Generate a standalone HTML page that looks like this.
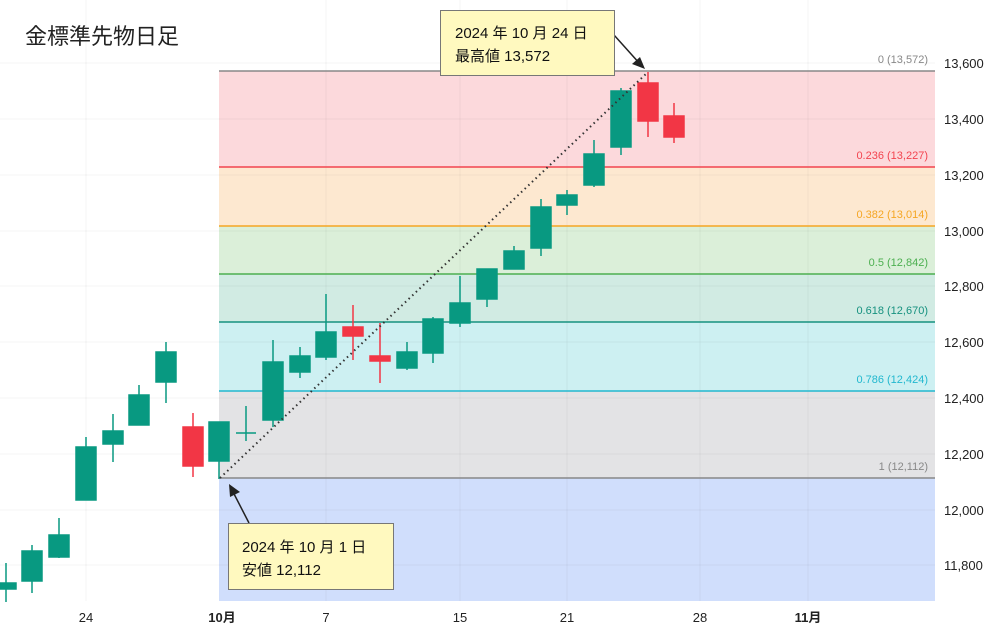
<!DOCTYPE html>
<html><head><meta charset="utf-8"><style>
body{margin:0;background:#fff;}
svg text{font-family:"Liberation Sans","Noto Sans CJK JP",sans-serif;}
</style></head><body>
<svg width="1000" height="637" xmlns="http://www.w3.org/2000/svg">
<rect width="1000" height="637" fill="#fff"/>
<rect x="219" y="71" width="716" height="96" fill="#fcd9dc"/>
<rect x="219" y="167" width="716" height="59" fill="#fde8d0"/>
<rect x="219" y="226" width="716" height="48" fill="#dbefd9"/>
<rect x="219" y="274" width="716" height="48" fill="#d1ebe3"/>
<rect x="219" y="322" width="716" height="69" fill="#cdf0f2"/>
<rect x="219" y="391" width="716" height="87" fill="#e3e3e5"/>
<rect x="219" y="478" width="716" height="123" fill="#d0defc"/>
<g stroke="#000" stroke-opacity="0.045" stroke-width="1">
<line x1="0" y1="63" x2="935" y2="63"/><line x1="0" y1="119" x2="935" y2="119"/>
<line x1="0" y1="175" x2="935" y2="175"/><line x1="0" y1="231" x2="935" y2="231"/>
<line x1="0" y1="286" x2="935" y2="286"/><line x1="0" y1="342" x2="935" y2="342"/>
<line x1="0" y1="398" x2="935" y2="398"/><line x1="0" y1="454" x2="935" y2="454"/>
<line x1="0" y1="510" x2="935" y2="510"/><line x1="0" y1="565" x2="935" y2="565"/>
<line x1="86" y1="0" x2="86" y2="601"/><line x1="326" y1="0" x2="326" y2="601"/>
<line x1="460" y1="0" x2="460" y2="601"/><line x1="567" y1="0" x2="567" y2="601"/>
<line x1="700" y1="0" x2="700" y2="601"/><line x1="808" y1="0" x2="808" y2="601"/>
</g>
<line x1="219" y1="71" x2="935" y2="71" stroke="#888" stroke-width="1.5"/>
<line x1="219" y1="167" x2="935" y2="167" stroke="#f2444f" stroke-width="1.5"/>
<line x1="219" y1="226" x2="935" y2="226" stroke="#f5a623" stroke-width="1.5"/>
<line x1="219" y1="274" x2="935" y2="274" stroke="#4caf50" stroke-width="1.5"/>
<line x1="219" y1="322" x2="935" y2="322" stroke="#16917f" stroke-width="1.5"/>
<line x1="219" y1="391" x2="935" y2="391" stroke="#22b8cf" stroke-width="1.5"/>
<line x1="219" y1="478" x2="935" y2="478" stroke="#888" stroke-width="1.5"/>
<g font-size="11" text-anchor="end">
<text x="928" y="63" fill="#888">0 (13,572)</text>
<text x="928" y="159" fill="#f2444f">0.236 (13,227)</text>
<text x="928" y="218" fill="#f5a623">0.382 (13,014)</text>
<text x="928" y="266" fill="#4caf50">0.5 (12,842)</text>
<text x="928" y="314" fill="#16917f">0.618 (12,670)</text>
<text x="928" y="383" fill="#22b8cf">0.786 (12,424)</text>
<text x="928" y="470" fill="#888">1 (12,112)</text>
</g>
<g stroke-width="1.5">
<g stroke="#089981" fill="#089981">
<line x1="6" y1="563" x2="6" y2="602"/><rect x="-4" y="583" width="20" height="6"/>
<line x1="32" y1="545" x2="32" y2="593"/><rect x="22" y="551" width="20" height="30"/>
<line x1="59" y1="518" x2="59" y2="558"/><rect x="49" y="535" width="20" height="22"/>
<line x1="86" y1="437" x2="86" y2="500"/><rect x="76" y="447" width="20" height="53"/>
<line x1="113" y1="414" x2="113" y2="462"/><rect x="103" y="431" width="20" height="13"/>
<line x1="139" y1="385" x2="139" y2="425"/><rect x="129" y="395" width="20" height="30"/>
<line x1="166" y1="342" x2="166" y2="403"/><rect x="156" y="352" width="20" height="30"/>
<line x1="219" y1="422" x2="219" y2="479"/><rect x="209" y="422" width="20" height="39"/>
<line x1="246" y1="406" x2="246" y2="441"/><line x1="236" y1="433" x2="256" y2="433"/>
<line x1="273" y1="340" x2="273" y2="427"/><rect x="263" y="362" width="20" height="58"/>
<line x1="300" y1="347" x2="300" y2="378"/><rect x="290" y="356" width="20" height="16"/>
<line x1="326" y1="294" x2="326" y2="360"/><rect x="316" y="332" width="20" height="25"/>
<line x1="407" y1="342" x2="407" y2="370"/><rect x="397" y="352" width="20" height="16"/>
<line x1="433" y1="317" x2="433" y2="363"/><rect x="423" y="319" width="20" height="34"/>
<line x1="460" y1="276" x2="460" y2="327"/><rect x="450" y="303" width="20" height="20"/>
<line x1="487" y1="269" x2="487" y2="307"/><rect x="477" y="269" width="20" height="30"/>
<line x1="514" y1="246" x2="514" y2="269"/><rect x="504" y="251" width="20" height="18"/>
<line x1="541" y1="199" x2="541" y2="256"/><rect x="531" y="207" width="20" height="41"/>
<line x1="567" y1="190" x2="567" y2="215"/><rect x="557" y="195" width="20" height="10"/>
<line x1="594" y1="140" x2="594" y2="187"/><rect x="584" y="154" width="20" height="31"/>
<line x1="621" y1="88" x2="621" y2="155"/><rect x="611" y="91" width="20" height="56"/>
</g>
<g stroke="#f23645" fill="#f23645">
<line x1="193" y1="413" x2="193" y2="477"/><rect x="183" y="427" width="20" height="39"/>
<line x1="353" y1="305" x2="353" y2="360"/><rect x="343" y="327" width="20" height="9"/>
<line x1="380" y1="323" x2="380" y2="383"/><rect x="370" y="356" width="20" height="5"/>
<line x1="648" y1="72" x2="648" y2="137"/><rect x="638" y="83" width="20" height="38"/>
<line x1="674" y1="103" x2="674" y2="143"/><rect x="664" y="116" width="20" height="21"/>
</g>
</g>
<line x1="220" y1="478" x2="648" y2="72" stroke="#333" stroke-width="2" stroke-dasharray="1.5 3.5"/>
<line x1="249" y1="523" x2="232" y2="490" stroke="#222" stroke-width="1.5"/>
<polygon points="229,484 230,497 240,492" fill="#222"/>
<line x1="614" y1="35" x2="640" y2="64" stroke="#222" stroke-width="1.5"/>
<polygon points="645,69 632,64 640,57" fill="#222"/>
<rect x="440.5" y="10.5" width="174" height="65" fill="#fff9bf" stroke="#777"/>
<text x="455" y="38" font-size="15" fill="#111">2024 年 10 月 24 日</text>
<text x="455" y="61" font-size="15" fill="#111">最高値 13,572</text>
<rect x="228.5" y="523.5" width="165" height="66" fill="#fff9bf" stroke="#777"/>
<text x="242" y="552" font-size="15" fill="#111">2024 年 10 月 1 日</text>
<text x="242" y="575" font-size="15" fill="#111">安値 12,112</text>
<text x="25" y="44" font-size="22" fill="#222">金標準先物日足</text>
<g font-size="13" fill="#222">
<text x="944" y="68">13,600</text><text x="944" y="124">13,400</text>
<text x="944" y="180">13,200</text><text x="944" y="236">13,000</text>
<text x="944" y="291">12,800</text><text x="944" y="347">12,600</text>
<text x="944" y="403">12,400</text><text x="944" y="459">12,200</text>
<text x="944" y="515">12,000</text><text x="944" y="570">11,800</text>
</g>
<g font-size="13" fill="#222" text-anchor="middle">
<text x="86" y="622">24</text><text x="222" y="622" font-weight="bold">10月</text>
<text x="326" y="622">7</text><text x="460" y="622">15</text>
<text x="567" y="622">21</text><text x="700" y="622">28</text>
<text x="808" y="622" font-weight="bold">11月</text>
</g>
</svg>
</body></html>
